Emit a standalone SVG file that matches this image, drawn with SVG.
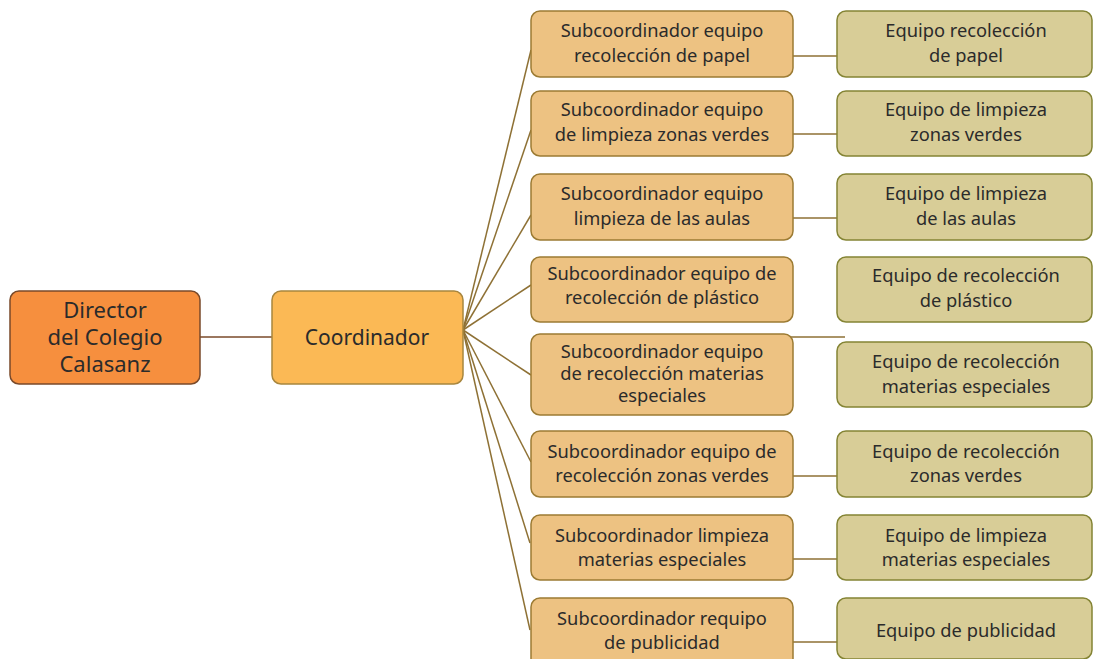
<svg xmlns="http://www.w3.org/2000/svg" width="1093" height="659" viewBox="0 0 1093 659">
<style>
text{font-family:"Noto Sans","DejaVu Sans",sans-serif;fill:#2b2b2b;text-anchor:middle}
.t{font-size:18.3px}
.b{font-size:21px}
.d{font-size:22px}
.dir{fill:#F68F3E;stroke:#7A4A2A;stroke-width:1.5}
.coo{fill:#FBB955;stroke:#A8863E;stroke-width:1.5}
.sub{fill:#EDC282;stroke:#9C7B33;stroke-width:1.5}
.eq{fill:#D8CD97;stroke:#848434;stroke-width:1.5}
.c{stroke:#8E7135;stroke-width:1.5;fill:none}
</style>
<g id="connectors">
<line x1="200" y1="337" x2="272" y2="337" style="stroke:#7A4A2A;stroke-width:1.5"/>
<line class="c" x1="463" y1="330" x2="531" y2="50"/>
<line class="c" x1="463" y1="330" x2="531" y2="130"/>
<line class="c" x1="463" y1="330" x2="531" y2="215"/>
<line class="c" x1="463" y1="330" x2="531" y2="285"/>
<line class="c" x1="463" y1="330" x2="531" y2="375"/>
<line class="c" x1="463" y1="330" x2="531" y2="462"/>
<line class="c" x1="463" y1="330" x2="530" y2="543"/>
<line class="c" x1="463" y1="330" x2="530" y2="630"/>
<line class="c" x1="793" y1="56" x2="837" y2="56"/>
<line class="c" x1="793" y1="134" x2="837" y2="134"/>
<line class="c" x1="793" y1="218" x2="837" y2="218"/>
<line class="c" x1="790" y1="337" x2="845" y2="337"/>
<line class="c" x1="793" y1="476" x2="837" y2="476"/>
<line class="c" x1="793" y1="559" x2="837" y2="559"/>
<line class="c" x1="793" y1="642" x2="837" y2="642"/>
</g>
<g id="director"><rect class="dir" x="10" y="291" width="190" height="93" rx="9"/>
<text class="d" x="105" y="318">Director</text><text class="d" x="105" y="345">del Colegio</text><text class="d" x="105" y="372">Calasanz</text></g>
<g id="coordinador"><rect class="coo" x="272" y="291" width="191" height="93" rx="9"/>
<text class="b" x="367" y="345">Coordinador</text></g>

<g id="sub1"><rect class="sub" x="531" y="11" width="262" height="66" rx="9"/>
<text class="t" x="662" y="37">Subcoordinador equipo</text><text class="t" x="662" y="62">recolección de papel</text></g>
<g id="sub2"><rect class="sub" x="531" y="91" width="262" height="65" rx="9"/>
<text class="t" x="662" y="116">Subcoordinador equipo</text><text class="t" x="662" y="141">de limpieza zonas verdes</text></g>
<g id="sub3"><rect class="sub" x="531" y="174" width="262" height="66" rx="9"/>
<text class="t" x="662" y="200">Subcoordinador equipo</text><text class="t" x="662" y="225">limpieza de las aulas</text></g>
<g id="sub4"><rect class="sub" x="531" y="257" width="262" height="65" rx="9"/>
<text class="t" x="662" y="280">Subcoordinador equipo de</text><text class="t" x="662" y="304">recolección de plástico</text></g>
<g id="sub5"><rect class="sub" x="531" y="334" width="262" height="81" rx="9"/>
<text class="t" x="662" y="358">Subcoordinador equipo</text><text class="t" x="662" y="380">de recolección materias</text><text class="t" x="662" y="402">especiales</text></g>
<g id="sub6"><rect class="sub" x="531" y="431" width="262" height="66" rx="9"/>
<text class="t" x="662" y="458">Subcoordinador equipo de</text><text class="t" x="662" y="482">recolección zonas verdes</text></g>
<g id="sub7"><rect class="sub" x="531" y="515" width="262" height="65" rx="9"/>
<text class="t" x="662" y="542">Subcoordinador limpieza</text><text class="t" x="662" y="566">materias especiales</text></g>
<g id="sub8"><rect class="sub" x="531" y="598" width="262" height="70" rx="9"/>
<text class="t" x="662" y="625">Subcoordinador requipo</text><text class="t" x="662" y="649">de publicidad</text></g>

<g id="eq1"><rect class="eq" x="837" y="11" width="255" height="66" rx="9"/>
<text class="t" x="966" y="37">Equipo recolección</text><text class="t" x="966" y="62">de papel</text></g>
<g id="eq2"><rect class="eq" x="837" y="91" width="255" height="65" rx="9"/>
<text class="t" x="966" y="116">Equipo de limpieza</text><text class="t" x="966" y="141">zonas verdes</text></g>
<g id="eq3"><rect class="eq" x="837" y="174" width="255" height="66" rx="9"/>
<text class="t" x="966" y="200">Equipo de limpieza</text><text class="t" x="966" y="225">de las aulas</text></g>
<g id="eq4"><rect class="eq" x="837" y="257" width="255" height="65" rx="9"/>
<text class="t" x="966" y="282">Equipo de recolección</text><text class="t" x="966" y="307">de plástico</text></g>
<g id="eq5"><rect class="eq" x="837" y="342" width="255" height="65" rx="9"/>
<text class="t" x="966" y="368">Equipo de recolección</text><text class="t" x="966" y="393">materias especiales</text></g>
<g id="eq6"><rect class="eq" x="837" y="431" width="255" height="66" rx="9"/>
<text class="t" x="966" y="458">Equipo de recolección</text><text class="t" x="966" y="482">zonas verdes</text></g>
<g id="eq7"><rect class="eq" x="837" y="515" width="255" height="65" rx="9"/>
<text class="t" x="966" y="542">Equipo de limpieza</text><text class="t" x="966" y="566">materias especiales</text></g>
<g id="eq8"><rect class="eq" x="837" y="598" width="255" height="61" rx="9"/>
<text class="t" x="966" y="637">Equipo de publicidad</text></g>
</svg>
